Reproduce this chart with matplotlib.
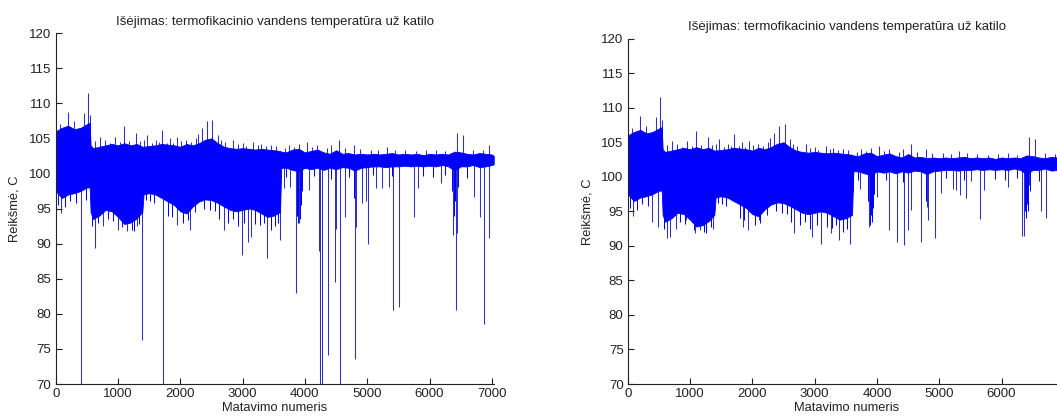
import matplotlib
matplotlib.use("Agg")
import matplotlib.pyplot as plt

plt.rcParams['font.family'] = ['Liberation Sans', 'DejaVu Sans']

TITLE = "Išėjimas: termofikacinio vandens temperatūra už katilo"
XLABEL = "Matavimo numeris"
YLABEL = "Reikšmė, C"
X_TICKS = [0, 1000, 2000, 3000, 4000, 5000, 6000, 7000]
Y_TICKS = [70, 75, 80, 85, 90, 95, 100, 105, 110, 115, 120]
N_SAMPLES = 7030

# dense part of the signal: upper / lower edge of the solid blue band
band_x = [0, 100, 200, 300, 400, 500, 545, 560, 600, 700,
          800, 900, 1000, 1100, 1200, 1300, 1390, 1410, 1500, 1600,
          1700, 1800, 1900, 2000, 2100, 2200, 2300, 2400, 2500, 2600,
          2700, 2800, 2900, 3000, 3100, 3200, 3300, 3400, 3500, 3600,
          3620, 3700, 3800, 3900, 4000, 4100, 4200, 4300,
          4400, 4500, 4600, 4700, 4800, 4900, 5000, 5100, 5200, 5300,
          5400, 5500, 5600, 5700, 5800, 5900, 6000, 6100, 6200, 6300,
          6400, 6500, 6600, 6700, 6800, 6900, 7000, 7030]
band_hi = [106.0, 106.5, 106.8, 106.3, 106.5, 107.0, 107.2, 104.0, 103.6, 103.8,
           104.0, 104.2, 104.0, 104.3, 104.0, 104.2, 103.8, 103.8, 103.9, 104.0,
           104.2, 104.1, 104.0, 103.8, 104.2, 104.0, 104.3, 104.8, 105.0, 104.3,
           103.8, 103.6, 103.5, 103.6, 103.5, 103.4, 103.5, 103.4, 103.3, 103.2,
           103.1, 103.0, 103.4, 103.5, 103.0, 103.2, 103.4, 103.0,
           102.8, 103.3, 102.8, 102.9, 102.7, 102.8, 102.7, 102.8, 102.7, 102.8,
           102.9, 102.7, 102.8, 102.7, 102.8, 102.6, 102.8, 102.7, 102.8, 102.7,
           103.1, 103.0, 102.8, 102.7, 102.9, 102.8, 102.7, 102.5]
band_lo = [97.5, 96.5, 97.0, 97.2, 97.5, 98.0, 98.0, 94.5, 93.5, 94.0,
           94.8, 94.6, 93.8, 92.8, 93.0, 93.6, 94.5, 97.0, 97.2, 97.0,
           96.5, 96.0, 95.5, 94.6, 94.3, 95.3, 96.0, 96.3, 96.2, 95.8,
           95.3, 94.8, 94.6, 94.8, 95.0, 94.8, 94.3, 93.8, 94.0, 94.5,
           100.8, 100.8, 100.5, 100.3, 100.8, 100.6, 100.8, 100.5,
           100.8, 100.6, 100.9, 100.8, 100.4, 100.8, 100.9, 101.0, 101.0, 100.9,
           101.0, 101.0, 101.1, 101.0, 101.1, 101.0, 101.1, 101.0, 101.2, 101.0,
           100.4, 101.0, 101.0, 101.2, 100.9, 101.0, 101.2, 101.3]

# upward excursions above the band (same in both panels)
peak_x = [70, 193, 294, 455, 514, 551, 630, 712, 790, 870, 953, 1030, 1103,
          1180, 1290, 1350, 1410, 1461, 1540, 1610, 1660, 1713, 1780, 1840,
          1880, 1943, 2010, 2090, 2170, 2250, 2290, 2345, 2425, 2516, 2600,
          2650, 2720, 2853, 2920, 3000, 3060, 3174, 3240, 3300, 3380, 3460,
          3540, 3680, 3740, 3817, 3900, 4031, 4120, 4200, 4350, 4420, 4550,
          4650, 4780, 4880, 5060, 5180, 5316, 5450, 5600, 5780, 5950, 6100,
          6250, 6440, 6536, 6700, 6850, 6949]
peak_v = [107.1, 108.8, 107.4, 108.6, 111.5, 108.3, 104.6, 105.2, 104.8, 104.3,
          105.2, 104.5, 106.7, 104.6, 105.7, 104.6, 104.8, 105.5, 104.3, 104.8,
          104.5, 106.2, 104.4, 105.0, 104.3, 105.2, 104.6, 104.8, 104.5, 105.0,
          105.6, 106.4, 107.4, 107.6, 105.5, 104.8, 104.5, 104.8, 104.2, 104.3,
          103.9, 104.5, 104.0, 104.2, 103.9, 104.0, 103.9, 103.6, 104.0, 103.8,
          104.2, 104.5, 103.8, 104.0, 103.6, 104.0, 104.7, 103.6, 104.0, 103.5,
          103.4, 103.3, 103.8, 103.4, 103.3, 103.2, 103.3, 103.4, 103.2, 105.7,
          105.5, 103.4, 103.3, 104.0]

# small downward excursions below the band (same in both panels)
edge_dip_x = [30, 150, 230, 330, 480, 580, 680, 840, 920, 1060, 1220, 1260, 1340,
              1450, 1520, 1580, 1800, 1870, 2050, 2120, 2230, 2380, 2470, 2560,
              2620, 2760, 2850, 2920, 3030, 3200, 3280, 3340, 3450, 3520, 3560,
              3700, 3860, 3875, 3890, 3905, 3920, 3935, 3950, 4150, 4420, 4700,
              4790, 4810, 5100, 5400, 5900, 6050, 6250, 6360, 6375, 6390, 6405,
              6430, 6460, 6600, 6950]
edge_dip_v = [95.5, 95.2, 96.0, 95.8, 96.2, 92.5, 93.0, 93.5, 93.2, 92.3, 92.0,
              91.8, 92.8, 96.2, 96.0, 95.8, 94.0, 93.8, 93.0, 93.3, 94.5, 95.0,
              94.8, 94.6, 93.5, 93.0, 93.5, 92.5, 93.0, 92.8, 92.6, 93.0, 92.0,
              92.5, 93.0, 99.5, 96.5, 94.0, 93.0, 94.5, 93.5, 95.5, 97.5, 99.6,
              99.2, 99.5, 96.5, 97.0, 99.8, 99.6, 99.7, 99.5, 99.8, 97.5, 95.0,
              94.0, 96.0, 95.0, 98.0, 99.4, 99.6]

# raw signal (left): downward spikes, values below 70 run off the axis
raw_dip_x = [80, 410, 631, 760, 1000, 1150, 1300, 1392, 1720, 1942, 2153, 2695,
             2987, 3089, 3142, 3389, 3592, 3658, 3763, 3854, 3900, 4068, 4226,
             4247, 4279, 4368, 4475, 4500, 4556, 4642, 4797, 4820, 4910, 4974,
             5011, 5147, 5240, 5342, 5421, 5516, 5753, 5816, 6184, 6379, 6421,
             6447, 6711, 6805, 6868, 6947]
raw_dip_v = [94.4, 40.0, 89.4, 92.5, 92.0, 91.8, 92.5, 76.3, 40.0, 92.6, 91.9, 91.9,
             88.4, 90.3, 90.9, 87.9, 90.5, 97.9, 98.1, 82.9, 92.9, 97.6, 88.9,
             40.0, 40.0, 74.1, 84.6, 92.1, 40.0, 93.8, 73.5, 92.3, 95.8, 96.1,
             89.9, 97.9, 97.9, 98.1, 80.5, 81.0, 93.8, 97.9, 98.6, 91.2, 80.5,
             91.5, 96.7, 93.8, 78.6, 90.8]

# filtered signal (right): downward spikes
flt_dip_x = [90, 394, 489, 622, 676, 782, 941, 1074, 1154, 1261, 1367, 1846, 1926,
             2112, 2670, 2963, 3096, 3255, 3388, 3574, 3622, 3729, 3867, 3996,
             4186, 4319, 4441, 4505, 4541, 4707, 4798, 4814, 4931, 5034, 5217,
             5270, 5334, 5431, 5511, 5649, 5714, 6100, 6330, 6367, 6447, 6633,
             6715]
flt_dip_v = [94.4, 93.4, 92.7, 91.1, 91.3, 92.5, 93.7, 91.8, 92.3, 93.2, 92.5,
             92.7, 92.3, 93.7, 91.8, 91.3, 90.3, 91.8, 90.8, 90.3, 97.8, 98.3,
             92.7, 97.1, 92.3, 90.6, 90.1, 92.3, 95.2, 90.6, 95.6, 93.7, 91.1,
             97.6, 98.3, 98.1, 97.4, 96.9, 99.4, 93.9, 98.1, 98.5, 91.5, 91.5,
             98.8, 95.1, 94.0]

BLUE = "#0000ff"
SPIKE = "#3030c8"
INK = "#222222"


def draw_panel(ax, dip_x, dip_v, xticks):
    # spikes sit under the band so only their tips show
    ax.vlines(edge_dip_x, edge_dip_v, 101.5, color=BLUE, lw=0.75, zorder=1)
    ax.vlines(dip_x, dip_v, 101.5, color=SPIKE, lw=0.75, zorder=1)
    ax.vlines(peak_x, 102.0, peak_v, color=SPIKE, lw=0.75, zorder=1)
    ax.fill_between(band_x, band_lo, band_hi, color=BLUE, lw=0.6, zorder=2)

    ax.set_xlim(0, N_SAMPLES)
    ax.set_ylim(70, 120)
    ax.set_xticks(xticks)
    ax.set_yticks(Y_TICKS)
    ax.tick_params(direction="in", length=4, width=0.8, pad=3,
                   labelsize=9.5, colors=INK)
    for side in ("top", "right"):
        ax.spines[side].set_visible(False)
    for side in ("left", "bottom"):
        ax.spines[side].set_color(INK)
        ax.spines[side].set_linewidth(0.8)
    ax.set_title(TITLE, fontsize=9.5, color=INK, pad=6)
    ax.set_xlabel(XLABEL, fontsize=9.3, color=INK, labelpad=1)
    ax.set_ylabel(YLABEL, fontsize=9.3, color=INK, labelpad=6)


fig = plt.figure(figsize=(10.57, 4.19), dpi=100)
ax_raw = fig.add_axes([0.0527, 0.0835, 0.4144, 0.8377])
ax_flt = fig.add_axes([0.5939, 0.0835, 0.4144, 0.8241])

draw_panel(ax_raw, raw_dip_x, raw_dip_v, X_TICKS)
# the right panel runs past the edge of the image, its last tick is not shown
draw_panel(ax_flt, flt_dip_x, flt_dip_v, X_TICKS[:-1])

fig.savefig("out.png", dpi=100)
